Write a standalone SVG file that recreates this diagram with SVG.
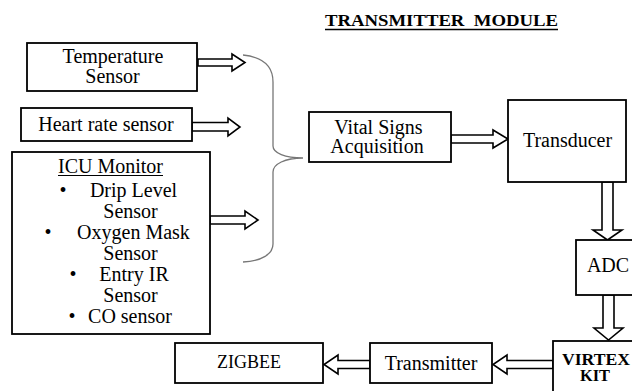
<svg xmlns="http://www.w3.org/2000/svg" width="632" height="391" viewBox="0 0 632 391" font-family="'Liberation Serif', serif">
<style>
.box{fill:#fff;stroke:#000;stroke-width:1.8}
.arr{fill:#fff;stroke:#000;stroke-width:1.6;stroke-linejoin:miter}
.t{font-family:'Liberation Serif',serif;font-size:20px;fill:#000;text-anchor:middle}
.b{font-family:'Liberation Serif',serif;font-weight:bold;font-size:16px;fill:#000}
.brace{fill:none;stroke:#777;stroke-width:1.3}
</style>
<rect width="632" height="391" fill="#fff"/>
<g id="title">
<text class="b" x="325" y="26" textLength="233" lengthAdjust="spacingAndGlyphs" xml:space="preserve">TRANSMITTER  MODULE</text>
<line x1="325" y1="29.5" x2="558" y2="29.5" stroke="#000" stroke-width="1.5"/>
</g>
<g id="connectors">
<polygon class="arr" points="198,59 232,59 232,54 245,62.5 232,71 232,66 198,66"/>
<polygon class="arr" points="192,122.5 228,122.5 228,118 240,127 228,136 228,131 192,131"/>
<polygon class="arr" points="210,216 245,216 245,211 258,220 245,229 245,224 210,224"/>
<path class="brace" d="M243,55 C262,57 273,66 273,82 L273,146 C273,153 285,158 303,158 C285,158 273,164 273,172 L273,244 C273,254 262,261 243,262"/>
<polygon class="arr" points="451,135 493,135 493,130 508,139 493,148 493,143 451,143"/>
<polygon class="arr" points="602,182 613,182 613,230 622,230 607.5,240 593,230 602,230"/>
<polygon class="arr" points="603,295 614,295 614,328 623,328 608.5,340 594,328 603,328"/>
<polygon class="arr" points="553,360.5 507,360.5 507,355 493,364.5 507,374 507,368.5 553,368.5"/>
<polygon class="arr" points="370,360.5 338,360.5 338,355 324,364.5 338,374 338,368.5 370,368.5"/>
</g>
<g id="temperature">
<rect class="box" x="27" y="43" width="170" height="48"/>
<text class="t" x="113" y="63">Temperature</text>
<text class="t" x="112.5" y="83">Sensor</text>
</g>
<g id="heartrate">
<rect class="box" x="21" y="108" width="171" height="33"/>
<text class="t" x="106" y="131">Heart rate sensor</text>
</g>
<g id="icu">
<rect class="box" x="12" y="152" width="198" height="182"/>
<text class="t" x="110.5" y="173">ICU Monitor</text>
<line x1="58" y1="175.5" x2="163" y2="175.5" stroke="#000" stroke-width="1"/>
<text class="t" x="63" y="197">•</text>
<text class="t" x="133.5" y="197">Drip Level</text>
<text class="t" x="130.5" y="218">Sensor</text>
<text class="t" x="48" y="239">•</text>
<text class="t" x="133.5" y="239">Oxygen Mask</text>
<text class="t" x="130.5" y="260">Sensor</text>
<text class="t" x="73" y="281">•</text>
<text class="t" x="134" y="281">Entry IR</text>
<text class="t" x="130.5" y="302">Sensor</text>
<text class="t" x="72" y="323">•</text>
<text class="t" x="130" y="323">CO sensor</text>
</g>
<g id="vital">
<rect class="box" x="309" y="112" width="142" height="50"/>
<text class="t" x="378.5" y="134">Vital Signs</text>
<text class="t" x="377" y="153">Acquisition</text>
</g>
<g id="transducer">
<rect class="box" x="508" y="100" width="118" height="82"/>
<text class="t" x="567.5" y="147">Transducer</text>
</g>
<g id="adc">
<rect class="box" x="576" y="240" width="70" height="55"/>
<text class="t" x="608" y="272">ADC</text>
</g>
<g id="virtex">
<rect class="box" x="553" y="341" width="90" height="60"/>
<text class="b" x="562" y="365" textLength="68" lengthAdjust="spacingAndGlyphs">VIRTEX</text>
<text class="b" x="580" y="381" textLength="30" lengthAdjust="spacingAndGlyphs">KIT</text>
</g>
<g id="transmitter">
<rect class="box" x="370" y="343" width="122" height="40"/>
<text class="t" x="431" y="370">Transmitter</text>
</g>
<g id="zigbee">
<rect class="box" x="175" y="343" width="148" height="40"/>
<text class="t" x="249" y="368" style="font-size:18px">ZIGBEE</text>
</g>
</svg>
